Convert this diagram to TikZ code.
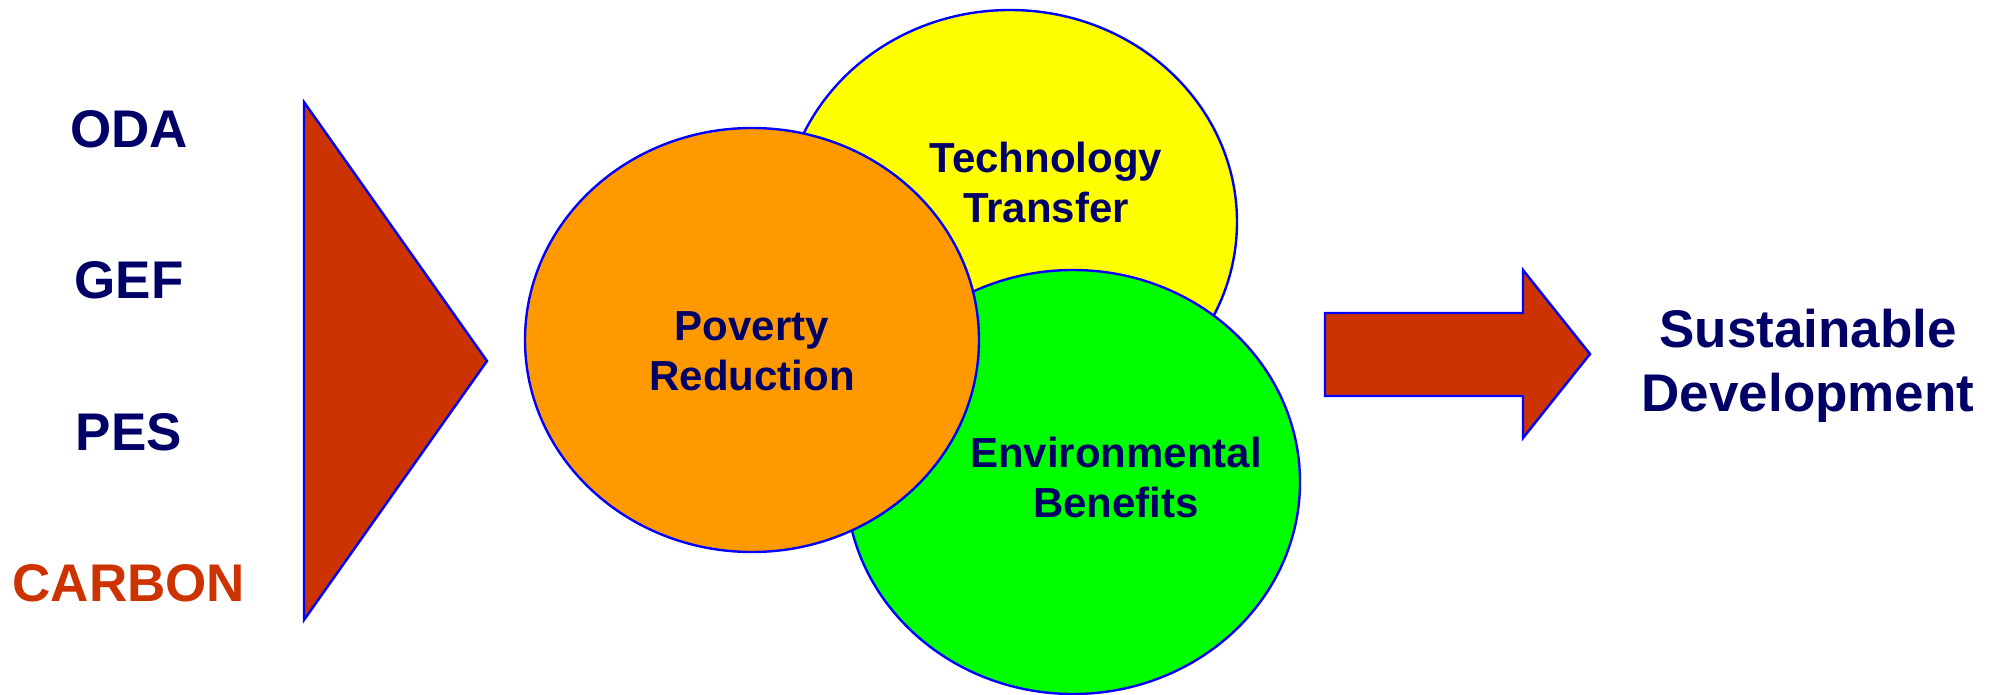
\documentclass[tikz,border=0pt]{standalone}
\usepackage{fontspec}
\setmainfont{Liberation Sans}
\usetikzlibrary{positioning}
\usetikzlibrary{shapes.geometric}

\definecolor{inkblue}{HTML}{000066}
\definecolor{brick}{HTML}{CC3300}
\definecolor{rimblue}{HTML}{0000FF}
\definecolor{povorange}{HTML}{FF9900}
\definecolor{techyellow}{HTML}{FFFF00}
\definecolor{envgreen}{HTML}{00FF00}

\tikzset {
  % funding source on the left
  source/.style = {
    font = \fontsize{26.5}{32}\selectfont\bfseries,
    text = inkblue,
    inner sep = 0,
    on grid
  },
  % one of the three overlapping goals
  bubble/.style = {
    ellipse,
    draw = rimblue,
    line width = 1.2pt,
    minimum width = 227pt,
    minimum height = 212pt,
    inner sep = 0
  },
  blurb/.style = {
    font = \fontsize{21}{25}\selectfont\bfseries,
    text = inkblue,
    align = center,
    inner sep = 0
  },
  % big filled shapes
  block/.style = {
    draw = rimblue,
    fill = brick,
    line width = 1.2pt,
    line join = miter
  }
}

\begin{document}
\begin{tikzpicture}[x = 0.5pt, y = -0.5pt, node distance = 75.75pt]
    \useasboundingbox (0,0) rectangle (1998,695);

    \node[source] (oda) at (129,129) {ODA};
    \node[source] (gef) [below=of oda] {GEF};
    \node[source] (pes) [below=of gef] {PES};
    \node[source, text = brick] (carbon) [below=of pes] {CARBON};

    \coordinate (funnel-top) at (304,102);
    \coordinate (funnel-tip) at (487,361);
    \coordinate (funnel-bot) at (304,620);
    \draw[block] (funnel-top) -- (funnel-tip) -- (funnel-bot) -- cycle;

    \node[bubble, fill = techyellow] (tech) at (1010,222) {};
    \node[bubble, fill = envgreen] (env) at (1073,482) {};
    \node[bubble, fill = povorange] (pov) at (752,340) {};

    \node[blurb] (tech-text) at (1046,182) {Technology\\Transfer};
    \node[blurb] (env-text) at (1116,477) {Environmental\\Benefits};
    \node[blurb] (pov-text) at (752,351) {Poverty\\Reduction};

    \draw[block] (1325,313)
    -- (1523,313)
    -- (1523,270)
    -- (1590,354)
    -- (1523,438)
    -- (1523,396)
    -- (1325,396)
    -- cycle;

    \node[source, align = center] (goal) at (1808,366) {Sustainable\\Development};
  \end{tikzpicture}
\end{document}
